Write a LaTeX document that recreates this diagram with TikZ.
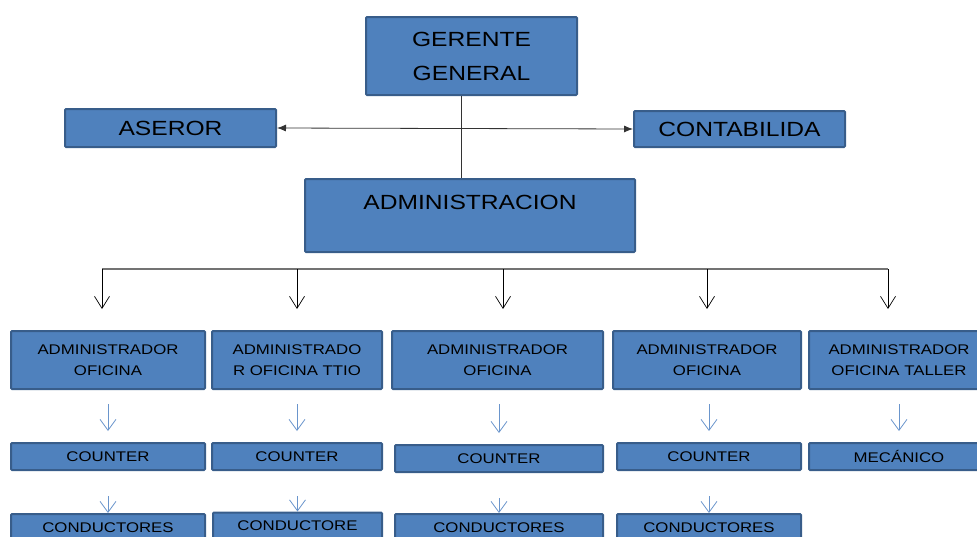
\documentclass[tikz,border=0pt]{standalone}
\usepackage{fontspec}
\setmainfont{Liberation Sans}[FakeStretch=1.2]
\usetikzlibrary{arrows.meta}

\definecolor{boxfill}{HTML}{4F81BD}
\definecolor{boxline}{HTML}{385D8A}
\definecolor{arrowblue}{HTML}{6A95CC}

\begin{document}
\begin{tikzpicture}[x=1pt,y=-1pt,
    box/.style={draw=boxline, fill=boxfill, line width=2pt, rounded corners=1pt,
      inner sep=0pt, align=center, text=black},
    big/.style={box, font=\fontsize{20.5}{34}\selectfont},
    small/.style={box, font=\fontsize{14}{21}\selectfont},
    conn/.style={draw=black!80, line width=0.8pt},
    dbl/.style={conn, {Latex[length=9pt,width=7pt]}-{Latex[length=9pt,width=7pt]}},
    down/.style={draw=black, line width=0.7pt, -{Straight Barb[length=12pt,width=15pt]}},
    bluedown/.style={draw=arrowblue, line width=0.8pt, -{Straight Barb[length=11pt,width=16pt]}}]
  \clip (0,0) rectangle (977,536);

  % top of the chart
  \node[big, minimum width=211pt, minimum height=78pt] (gerente) at (471.5,56) {GERENTE\\GENERAL};
  \node[big, minimum width=211pt, minimum height=38pt] (aseror) at (170.5,128) {ASEROR};
  \node[big, minimum width=211pt, minimum height=36pt] (contab) at (739.5,129) {CONTABILIDA};
  \node[big, minimum width=330pt, minimum height=73pt, text height=15pt, text depth=28pt] (admin) at (470,215.5) {ADMINISTRACION};

  \draw[conn] ([xshift=-10.5pt]gerente.south) -- ([xshift=-10.5pt]gerente.south |- admin.north);
  \draw[dbl] (aseror.east) -- (contab.west);

  % offices
  \node[small, minimum width=194pt, minimum height=58pt] (ofi1) at (108,360) {ADMINISTRADOR\\OFICINA};
  \node[small, minimum width=170pt, minimum height=58pt] (ofi2) at (297,360) {ADMINISTRADO\\R OFICINA TTIO};
  \node[small, minimum width=211pt, minimum height=58pt] (ofi3) at (497.5,360) {ADMINISTRADOR\\OFICINA};
  \node[small, minimum width=188pt, minimum height=58pt] (ofi4) at (707,360) {ADMINISTRADOR\\OFICINA};
  \node[small, minimum width=180pt, minimum height=58pt] (ofi5) at (899,360) {ADMINISTRADOR\\OFICINA TALLER};

  \node[small, minimum width=194pt, minimum height=27pt] (cnt1) at (108,456.5) {COUNTER};
  \node[small, minimum width=170pt, minimum height=27pt] (cnt2) at (297,456.5) {COUNTER};
  \node[small, minimum width=208pt, minimum height=27pt] (cnt3) at (499,458.5) {COUNTER};
  \node[small, minimum width=184pt, minimum height=27pt] (cnt4) at (709,456.5) {COUNTER};
  \node[small, minimum width=180pt, minimum height=27pt] (cnt5) at (899,456.5) {MECÁNICO};

  \node[small, minimum width=194pt, minimum height=27pt] (cnd1) at (108,527.5) {CONDUCTORES};
  \node[small, minimum width=169pt, minimum height=27pt] (cnd2) at (297.5,526) {CONDUCTORE};
  \node[small, minimum width=208pt, minimum height=27pt] (cnd3) at (499,527.5) {CONDUCTORES};
  \node[small, minimum width=184pt, minimum height=27pt] (cnd4) at (709,527.5) {CONDUCTORES};

  % bus below ADMINISTRACION
  \coordinate (b1) at (102,269);
  \coordinate (b2) at (297,269);
  \coordinate (b3) at (503,269);
  \coordinate (b4) at (707,269);
  \coordinate (b5) at (888,269);
  \draw[draw=black!55, line width=1.4pt] (b1) -- (b5);
  \foreach \i in {1,...,5}
    \draw[down, shorten >=21pt] (b\i) -- (b\i |- ofi\i.north);

  \foreach \i in {1,...,5}
    \draw[bluedown, shorten <=14pt, shorten >=11pt] (cnt\i.north |- ofi\i.south) -- (cnt\i.north);
  \foreach \i in {1,...,4}
    \draw[bluedown, shorten <=25pt] (cnd\i.north |- cnt\i.south) -- (cnd\i.north);
\end{tikzpicture}
\end{document}
